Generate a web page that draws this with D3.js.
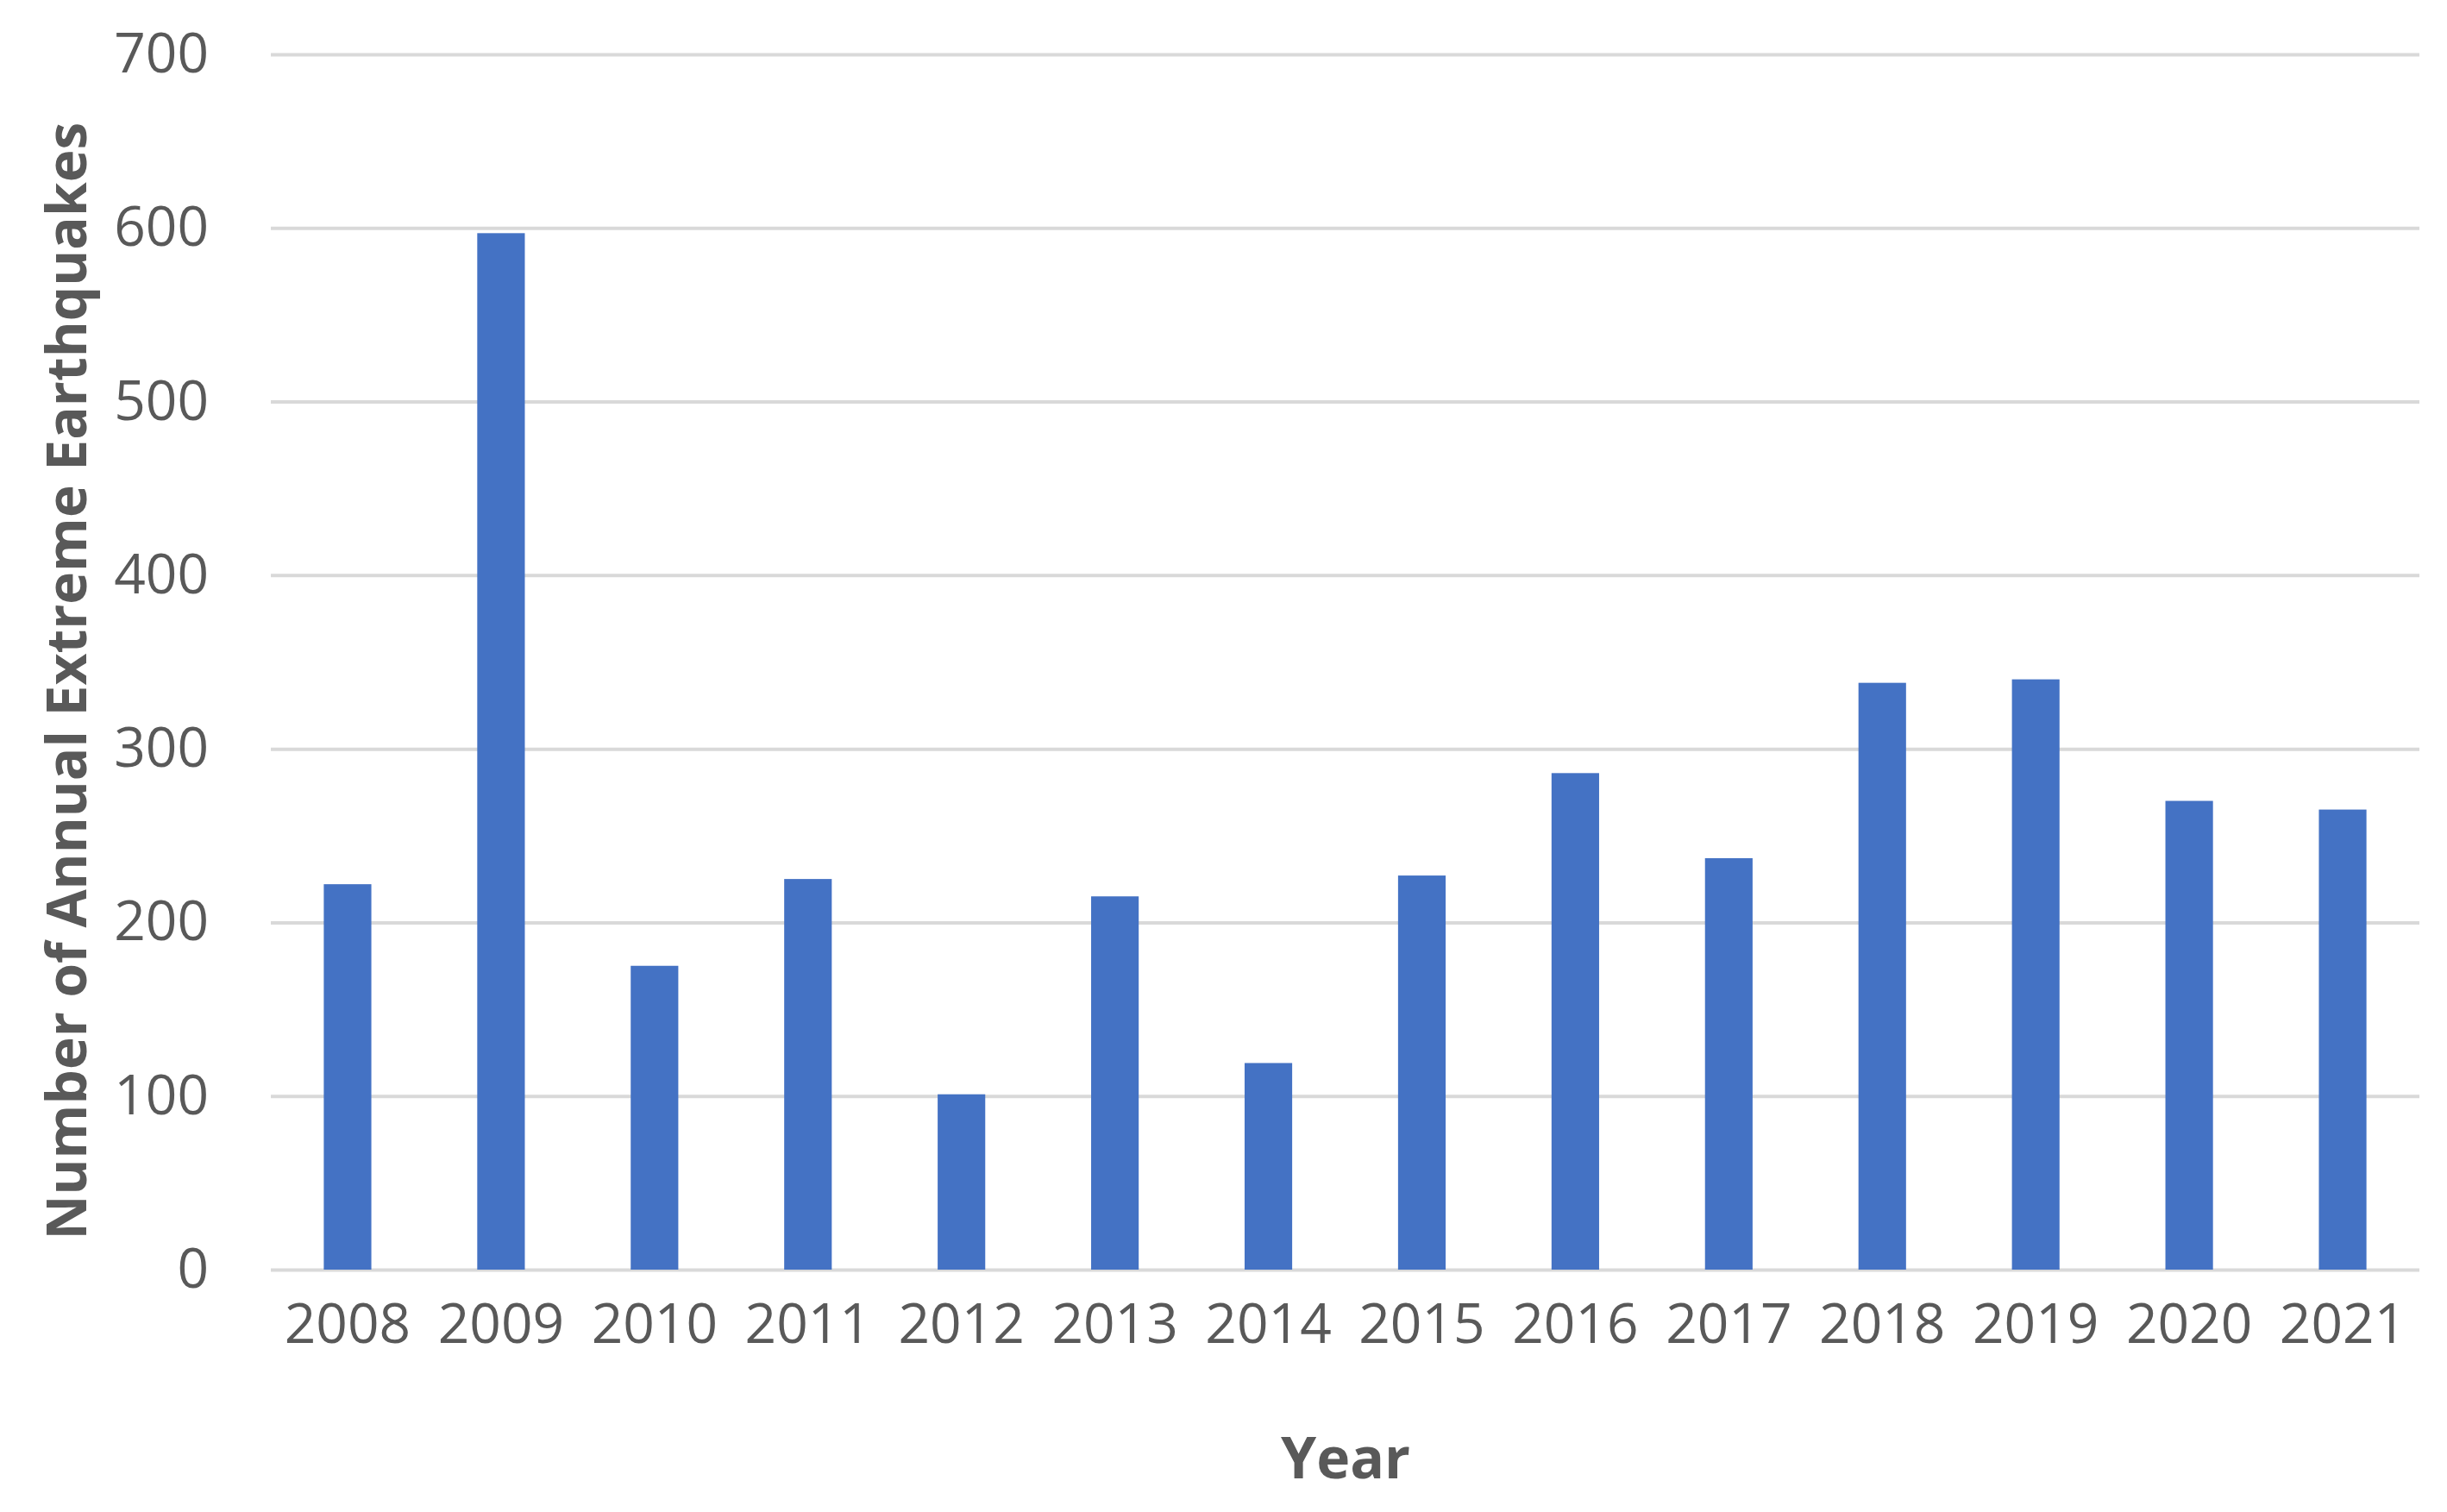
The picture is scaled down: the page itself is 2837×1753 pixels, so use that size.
<!DOCTYPE html><html><head><meta charset="utf-8">
<script src="https://cdn.jsdelivr.net/npm/d3@7"></script>
<style>body{margin:0;background:#fff}</style></head><body>
<script>
const years=["2008","2009","2010","2011","2012","2013","2014","2015","2016","2017","2018","2019","2020","2021"];
const counts=[222,597,175,225,101,215,119,227,286,237,338,340,270,265];
const yTicks=[0,100,200,300,400,500,600,700];
const W=2837,H=1753,m={l:314,r:32,t:63,b:281};
const svg=d3.select("body").append("svg").attr("width",W).attr("height",H);
const x=d3.scaleBand().domain(years).range([m.l,W-m.r]).paddingInner(0.69).paddingOuter(0.345);
const y=d3.scaleLinear().domain([0,700]).range([H-m.b,m.t]);
const font="'Open Sans', 'Noto Sans', sans-serif";
const ga=svg.append("g").attr("transform",`translate(${m.l},0)`)
 .call(d3.axisLeft(y).tickValues(yTicks).tickSize(-(W-m.l-m.r)).tickPadding(72));
ga.select(".domain").remove();
ga.selectAll(".tick line").attr("stroke","#d9d9d9").attr("stroke-width",4);
ga.selectAll("text").attr("font-family",font).attr("font-size",64).attr("fill","#595959");
svg.append("g").selectAll("rect").data(years).join("rect")
 .attr("x",d=>x(d)).attr("width",x.bandwidth())
 .attr("y",(d,i)=>y(counts[i])).attr("height",(d,i)=>y(0)-y(counts[i])).attr("fill","#4472c4");
const gx=svg.append("g").attr("transform",`translate(0,${H-m.b})`).call(d3.axisBottom(x).tickSize(0).tickPadding(40));
gx.select(".domain").remove();
gx.selectAll("text").attr("font-family",font).attr("font-size",64).attr("fill","#595959");
svg.append("text").attr("x",1560).attr("y",1714).attr("text-anchor","middle")
 .attr("font-family",font).attr("font-weight","bold").attr("font-size",66).attr("fill","#595959").text("Year");
svg.append("text").attr("transform",`translate(78,${(55+818)/2*1.809}) rotate(-90)`).attr("text-anchor","middle")
 .attr("dy","0.35em").attr("font-family",font).attr("font-weight","bold").attr("font-size",64).attr("fill","#595959")
 .text("Number of Annual Extreme Earthquakes");
</script></body></html>
